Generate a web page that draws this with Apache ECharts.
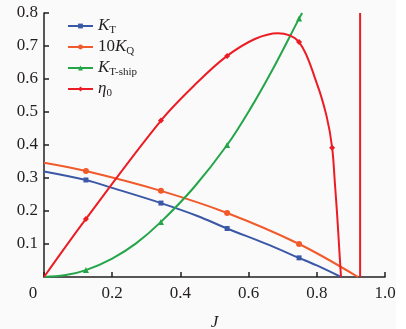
<!DOCTYPE html>
<html>
<head>
<meta charset="utf-8">
<script src="https://cdn.jsdelivr.net/npm/echarts@6/dist/echarts.min.js"></script>
<style>
  html, body { margin: 0; padding: 0; background: #ffffff; }
  #chart { width: 396px; height: 329px; background: #fafafa; }
</style>
</head>
<body>
<div id="chart"></div>
<script>
// values
const J_KT = [0, 0.123, 0.2, 0.343, 0.45, 0.537, 0.65, 0.748, 0.8, 0.871];
const KT = [0.320, 0.294, 0.270, 0.224, 0.185, 0.147, 0.101, 0.058, 0.035, 0];
const KT_MARKS = [1, 3, 5, 7];

const J_KQ = [0, 0.123, 0.343, 0.537, 0.748, 0.921];
const KQ10 = [0.346, 0.321, 0.261, 0.194, 0.100, 0];
const KQ_MARKS = [1, 2, 3, 4];

const J_SHIP = [0, 0.06, 0.123, 0.2, 0.27, 0.343, 0.44, 0.537, 0.604, 0.67, 0.748, 0.757];
const KT_SHIP = [0, 0.005, 0.021, 0.056, 0.102, 0.167, 0.272, 0.400, 0.508, 0.628, 0.783, 0.800];
const SHIP_MARKS = [2, 5, 7, 10];

const J_ETA = [0, 0.123, 0.343, 0.45, 0.537, 0.62, 0.686, 0.748, 0.80, 0.829, 0.845, 0.853, 0.860, 0.866, 0.871];
const ETA0 = [0, 0.176, 0.474, 0.59, 0.670, 0.722, 0.739, 0.712, 0.587, 0.486, 0.392, 0.285, 0.183, 0.082, 0];
const ETA_MARKS = [1, 2, 4, 7, 10];

const J_VERT = [0.927, 0.927];
const ETA_VERT = [0, 0.8];

const X_TICKS = [0, 0.2, 0.4, 0.6, 0.8, 1.0];
const Y_TICKS = [0.1, 0.2, 0.3, 0.4, 0.5, 0.6, 0.7, 0.8];

const NAMES = ['KT', '10KQ', 'KTship', 'eta0'];
const COLORS = ['#3b58a6', '#f15a2b', '#23a548', '#ec1c24'];

const FONT = 'Liberation Serif';

function build(xs, ys, marks) {
  return xs.map((x, i) => marks.indexOf(i) >= 0
    ? { value: [x, ys[i]] }
    : { value: [x, ys[i]], symbol: 'none' });
}

function lineSeries(name, color, symbol, size, data) {
  return {
    name: name,
    type: 'line',
    data: data,
    smooth: 0.35,
    symbol: symbol,
    symbolSize: size,
    showAllSymbol: true,
    color: color,
    lineStyle: { color: color, width: 2 },
    itemStyle: { color: color },
    emphasis: { disabled: true },
    animation: false,
    z: 3
  };
}

const legendRich = {
  t: { fontFamily: FONT, fontSize: 17, color: '#231f20' },
  i: { fontFamily: FONT, fontSize: 17, fontStyle: 'italic', color: '#231f20' },
  s: { fontFamily: FONT, fontSize: 11, color: '#231f20', padding: [9, 0, 0, 0] }
};

const legendText = {
  KT: '{i|K}{s|T}',
  '10KQ': '{t|10}{i|K}{s|Q}',
  KTship: '{i|K}{s|T-ship}',
  eta0: '{i|η}{s|0}'
};

const chart = echarts.init(document.getElementById('chart'));

chart.setOption({
  animation: false,
  grid: { left: 44, right: 11, top: 13, bottom: 52, outerBoundsMode: 'none' },
  legend: {
    data: NAMES,
    orient: 'vertical',
    left: 62,
    top: 12,
    itemWidth: 25,
    itemHeight: 6,
    itemGap: 2,
    textStyle: { rich: legendRich, lineHeight: 18 },
    formatter: name => legendText[name]
  },
  xAxis: {
    type: 'value',
    min: 0,
    max: 1.0,
    interval: 0.2,
    name: 'J',
    nameLocation: 'middle',
    nameGap: 37,
    nameTextStyle: { fontFamily: FONT, fontSize: 17, fontStyle: 'italic', color: '#231f20' },
    axisLine: { lineStyle: { color: '#231f20', width: 1.5 } },
    axisTick: { inside: true, length: 5, lineStyle: { color: '#231f20', width: 1.5 } },
    splitLine: { show: false },
    axisLabel: {
      margin: 8,
      color: '#231f20',
      fontFamily: FONT,
      fontSize: 17,
      formatter: v => {
        if (X_TICKS.indexOf(v) < 0) return '';
        return v === 0 ? '{z|0}' : v.toFixed(1);
      },
      rich: {
        z: { fontFamily: FONT, fontSize: 17, color: '#231f20', padding: [0, 22, 0, 0] }
      }
    }
  },
  yAxis: {
    type: 'value',
    min: 0,
    max: 0.8,
    interval: 0.1,
    axisLine: { show: true, lineStyle: { color: '#231f20', width: 1.5 } },
    axisTick: { show: true, inside: true, length: 5, lineStyle: { color: '#231f20', width: 1.5 } },
    splitLine: { show: false },
    axisLabel: {
      showMinLabel: false,
      margin: 6,
      color: '#231f20',
      fontFamily: FONT,
      fontSize: 17,
      formatter: v => Y_TICKS.some(t => Math.abs(t - v) < 1e-6) ? v.toFixed(1) : ''
    }
  },
  series: [
    lineSeries('KT', COLORS[0], 'rect', 5, build(J_KT, KT, KT_MARKS)),
    lineSeries('10KQ', COLORS[1], 'circle', 6, build(J_KQ, KQ10, KQ_MARKS)),
    lineSeries('KTship', COLORS[2], 'triangle', 6, build(J_SHIP, KT_SHIP, SHIP_MARKS)),
    lineSeries('eta0', COLORS[3], 'diamond', 6, build(J_ETA, ETA0, ETA_MARKS)),
    {
      name: 'eta0',
      type: 'line',
      data: J_VERT.map((x, i) => [x, ETA_VERT[i]]),
      symbol: 'none',
      lineStyle: { color: COLORS[3], width: 2 },
      emphasis: { disabled: true },
      z: 3
    }
  ]
});
</script>
</body>
</html>
